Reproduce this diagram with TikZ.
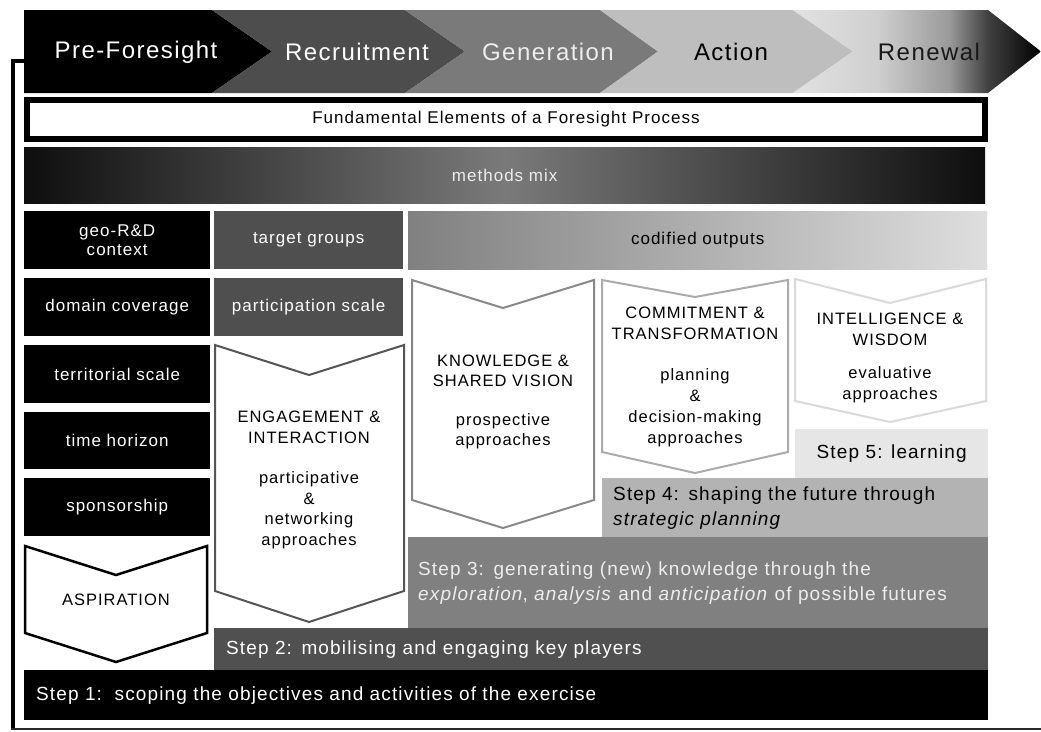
\documentclass[tikz,border=0pt]{standalone}
\usepackage{fontspec}
\setmainfont{Liberation Sans}[LetterSpace=6]
\definecolor{recr}{HTML}{4D4D4D}
\definecolor{gene}{HTML}{7A7A7A}
\definecolor{acti}{HTML}{BEBEBE}
\definecolor{r0}{HTML}{E2E2E2}
\definecolor{r1}{HTML}{CFCFCF}
\definecolor{r2}{HTML}{9A9A9A}
\definecolor{r3}{HTML}{404040}
\definecolor{darkcell}{HTML}{4F4F4F}
\definecolor{mm}{HTML}{0E0E0E}
\definecolor{mmid}{HTML}{7A7A7A}
\definecolor{codl}{HTML}{808080}
\definecolor{codr}{HTML}{DEDEDE}
\definecolor{engline}{HTML}{555555}
\definecolor{knowline}{HTML}{888888}
\definecolor{commline}{HTML}{ABABAB}
\definecolor{intline}{HTML}{D9D9D9}
\definecolor{sfive}{HTML}{E6E6E6}
\definecolor{sfour}{HTML}{B3B3B3}
\definecolor{sthree}{HTML}{808080}
\definecolor{stwo}{HTML}{505050}
\definecolor{lighttext}{HTML}{EDEDED}
\definecolor{bottomline}{HTML}{2A2A2A}
\pgfdeclarehorizontalshading{renewshade}{100bp}{color(0bp)=(r0); color(25bp)=(r0); color(42bp)=(r1); color(56.5bp)=(r2); color(64.3bp)=(r3); color(75bp)=(black); color(100bp)=(black)}
\begin{document}
\begin{tikzpicture}[x=1pt,y=-1pt,
  cell/.style={rectangle, inner sep=0pt, anchor=north west, align=center, font=\fontsize{17}{19}\selectfont},
  stepbox/.style={rectangle, inner ysep=0pt, anchor=north west, align=left, font=\fontsize{19}{25}\selectfont},
  phase/.style={font=\fontsize{24}{28}\selectfont, inner sep=0pt},
  chevtext/.style={align=center, inner sep=0pt, font=\fontsize{16.5}{20.5}\selectfont},
  chev/.style={line width=2pt, fill=white, line join=miter}
]
\useasboundingbox (0,0) rectangle (1041,731);
\fill[white] (0,0) rectangle (1041,731);

% banner
\fill[black] (24,10) -- (212,10) -- (272,51.5) -- (212,93) -- (24,93) -- cycle;
\fill[recr] (212,10) -- (405,10) -- (465,51.5) -- (405,93) -- (212,93) -- (272,51.5) -- cycle;
\fill[gene] (405,10) -- (600,10) -- (658,51.5) -- (600,93) -- (405,93) -- (465,51.5) -- cycle;
\fill[acti] (600,10) -- (793,10) -- (853,51.5) -- (793,93) -- (600,93) -- (658,51.5) -- cycle;
\shade[shading=renewshade] (793,10) -- (988,10) -- (1041,51.5) -- (988,93) -- (793,93) -- (853,51.5) -- cycle;
\node[phase, text=white] (pre) at (136,52) {Pre-Foresight};
\node[phase, text=white] (recruit) at (357,52) {Recruitment};
\node[phase, text=lighttext] (gen) at (548,52) {Generation};
\node[phase, text=black] (act) at (731,52) {Action};
\node[phase, text=black!90] (ren) at (929,52) {Renewal};

% bracket line
\draw[line width=4pt] (24,60.5) -- (13,60.5) -- (13,729);
\draw[line width=2.5pt, bottomline] (11,729) -- (1045,729);

% fundamental elements
\node[draw=black, line width=6pt, fill=white, minimum width=958pt, minimum height=39pt, inner sep=0pt, font=\fontsize{17}{18}\selectfont] (fund) at (506,119.5) {Fundamental Elements of a Foresight Process};

% methods mix
\node[cell, minimum width=961pt, minimum height=56pt, left color=mm, right color=mm, middle color=mmid, text=lighttext] (methods) at (24,147) {methods mix};

% first row
\node[cell, fill=black, text=white, minimum width=186pt, minimum height=58pt] (geo) at (24,211) {geo-R\&D\\context};
\node[cell, fill=darkcell, text=white, minimum width=189pt, minimum height=58pt] (target) at (214,211) {target groups};
\node[cell, left color=codl, right color=codr, text=black, minimum width=579pt, minimum height=58pt] (codified) at (408,211) {codified outputs};

% left column
\node[cell, fill=black, text=white, minimum width=186pt, minimum height=58pt] (domain) at (24,278) {domain coverage};
\node[cell, fill=black, text=white, minimum width=186pt, minimum height=58pt] (territorial) at (24,345) {territorial scale};
\node[cell, fill=black, text=white, minimum width=186pt, minimum height=57pt] (time) at (24,412) {time horizon};
\node[cell, fill=black, text=white, minimum width=186pt, minimum height=58pt] (sponsor) at (24,478) {sponsorship};
\node[cell, fill=darkcell, text=white, minimum width=189pt, minimum height=58pt] (partscale) at (214,278) {participation scale};

% chevrons
\draw[chev, line width=2.5pt, draw=black] (25,546) -- (116,575) -- (207,546) -- (207,633) -- (116,662) -- (25,633) -- cycle;
\draw[chev, draw=engline] (215,345) -- (309,375) -- (404,345) -- (404,591) -- (309,622) -- (215,591) -- cycle;
\draw[chev, draw=knowline] (412,280) -- (503,308) -- (594,280) -- (594,500) -- (503,528) -- (412,500) -- cycle;
\draw[chev, draw=commline] (602,280) -- (695,297) -- (788,280) -- (788,452) -- (695,473) -- (602,452) -- cycle;
\draw[chev, draw=intline] (795,279) -- (890,303) -- (986,279) -- (986,401) -- (890,422) -- (795,401) -- cycle;

\node[chevtext] (asp) at (116,600) {ASPIRATION};
\node[chevtext] (eng) at (309,480) {ENGAGEMENT \&\\INTERACTION\\[20pt]participative\\\&\\networking\\approaches};
\node[chevtext, font=\fontsize{16.5}{19.5}\selectfont] (know) at (503,402) {KNOWLEDGE \&\\SHARED VISION\\[20pt]prospective\\approaches};
\node[chevtext, font=\fontsize{16.5}{21}\selectfont] (comm) at (695,377) {COMMITMENT \&\\TRANSFORMATION\\[20pt]planning\\\&\\decision-making\\approaches};
\node[chevtext, font=\fontsize{16.5}{21}\selectfont] (intel) at (890,358) {INTELLIGENCE \&\\WISDOM\\[12pt]evaluative\\approaches};

% steps
\node[cell, font=\fontsize{19}{25}\selectfont, fill=sfive, text=black, minimum width=193pt, minimum height=49pt] (s5) at (795,429) {Step 5: learning};
\node[stepbox, fill=sfour, text=black, minimum width=386pt, minimum height=59pt, text width=364pt, inner xsep=11pt] (s4) at (602,478) {Step 4: shaping the future through\\\textit{strategic planning}};
\node[stepbox, fill=sthree, text=lighttext, minimum width=580pt, minimum height=91pt, text width=560pt, inner xsep=10pt] (s3) at (408,537) {Step 3: generating (new) knowledge through the\\\textit{exploration}, \textit{analysis} and \textit{anticipation} of possible futures};
\node[stepbox, fill=stwo, text=white, minimum width=774pt, minimum height=42pt, text width=750pt, inner xsep=12pt] (s2) at (214,628) {Step 2: mobilising and engaging key players};
\node[stepbox, fill=black, text=white, minimum width=964pt, minimum height=50pt, text width=940pt, inner xsep=12pt] (s1) at (24,670) {Step 1:\ \ scoping the objectives and activities of the exercise};
\end{tikzpicture}
\end{document}
